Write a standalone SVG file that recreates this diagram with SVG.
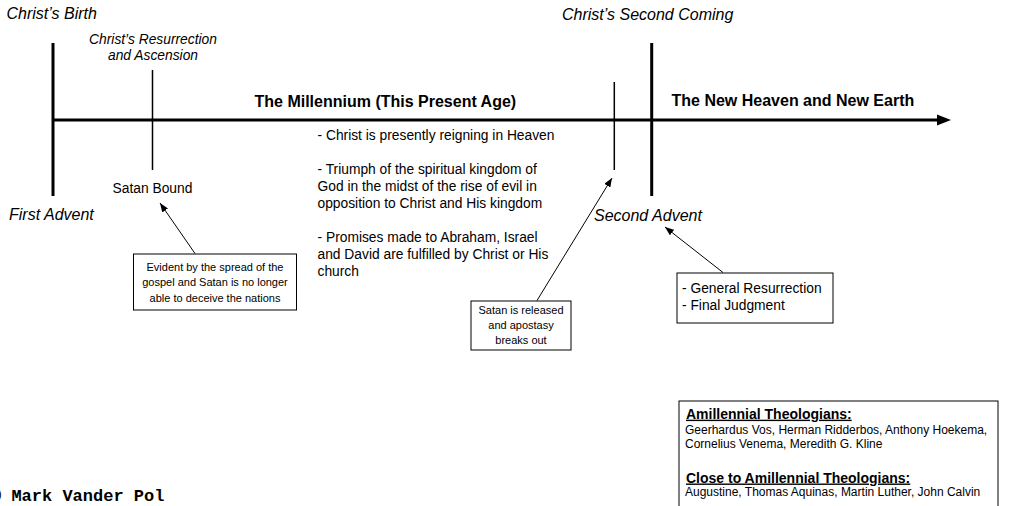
<svg xmlns="http://www.w3.org/2000/svg" width="1016" height="506" viewBox="0 0 1016 506">
<style>
text{font-family:"Liberation Sans",Arial,sans-serif;fill:#000}
.it{font-style:italic;font-size:16px}
.its{font-style:italic;font-size:13.8px}
.bt{font-weight:bold;font-size:16px}
.bd{font-size:13.8px}
.sm{font-size:11px}
.th{font-weight:bold;font-size:14px;text-decoration:underline}
.tn{font-size:12px}
.mono{font-family:"Liberation Mono","Courier New",monospace;font-weight:bold;font-size:17px}
.box{fill:#fff;stroke:#000;stroke-width:1}
.thick{stroke:#000;stroke-width:3}
.thin{stroke:#000;stroke-width:1.5}
.arr{stroke:#000;stroke-width:1;fill:none;marker-end:url(#ah)}
</style>
<defs>
<marker id="ah" viewBox="0 0 10 10" refX="10" refY="5" markerWidth="9" markerHeight="7" markerUnits="userSpaceOnUse" orient="auto" preserveAspectRatio="none">
<path d="M0,0 L10,5 L0,10 z" fill="#000"/>
</marker>
</defs>
<rect width="1016" height="506" fill="#fff"/>

<g id="timeline">
<line class="thick" x1="52" y1="120" x2="940" y2="120"/>
<polygon points="937,114.5 951,120 937,125.5" fill="#000"/>
<line class="thick" x1="53" y1="43" x2="53" y2="196"/>
<line class="thin" x1="152.5" y1="70" x2="152.5" y2="170"/>
<line class="thin" x1="614.3" y1="82" x2="614.3" y2="170"/>
<line class="thick" x1="651.7" y1="43" x2="651.7" y2="196"/>
</g>

<g id="first-advent">
<text class="it" x="6.5" y="19">Christ’s Birth</text>
<text class="it" x="9" y="220">First Advent</text>
</g>

<g id="resurrection">
<text class="its" x="153" y="44" text-anchor="middle">Christ’s Resurrection</text>
<text class="its" x="153" y="59.5" text-anchor="middle">and Ascension</text>
<text class="bd" x="152.5" y="193" text-anchor="middle">Satan Bound</text>
</g>

<g id="millennium">
<text class="bt" x="254.5" y="106.5">The Millennium (This Present Age)</text>
<text class="bd" x="317.5" y="140">- Christ is presently reigning in Heaven</text>
<text class="bd" x="317.5" y="174">- Triumph of the spiritual kingdom of</text>
<text class="bd" x="317.5" y="191">God in the midst of the rise of evil in</text>
<text class="bd" x="317.5" y="208">opposition to Christ and His kingdom</text>
<text class="bd" x="317.5" y="242">- Promises made to Abraham, Israel</text>
<text class="bd" x="317.5" y="259">and David are fulfilled by Christ or His</text>
<text class="bd" x="317.5" y="276">church</text>
</g>

<g id="second-advent">
<text class="it" x="562" y="20">Christ’s Second Coming</text>
<text class="it" x="594" y="220.5">Second Advent</text>
</g>

<g id="new-heaven">
<text class="bt" x="671.5" y="106">The New Heaven and New Earth</text>
</g>

<g id="box-satan-bound">
<rect class="box" x="133.5" y="254" width="163" height="56"/>
<text class="sm" x="215" y="271" text-anchor="middle">Evident by the spread of the</text>
<text class="sm" x="215" y="286.3" text-anchor="middle">gospel and Satan is no longer</text>
<text class="sm" x="215" y="301.6" text-anchor="middle">able to deceive the nations</text>
</g>

<g id="box-satan-released">
<rect class="box" x="471" y="301" width="100" height="49"/>
<text class="sm" x="521" y="314" text-anchor="middle">Satan is released</text>
<text class="sm" x="521" y="329" text-anchor="middle">and apostasy</text>
<text class="sm" x="521" y="344" text-anchor="middle">breaks out</text>
</g>

<g id="box-judgment">
<rect class="box" x="677" y="273" width="156" height="50"/>
<text class="bd" x="682" y="292.5">- General Resurrection</text>
<text class="bd" x="682" y="310">- Final Judgment</text>
</g>

<g id="box-theologians">
<rect class="box" x="679" y="401" width="319" height="115"/>
<text class="th" x="686" y="418.7">Amillennial Theologians:</text>
<text class="tn" x="685" y="434">Geerhardus Vos, Herman Ridderbos, Anthony Hoekema,</text>
<text class="tn" x="685" y="447.5">Cornelius Venema, Meredith G. Kline</text>
<text class="th" x="686" y="482.5">Close to Amillennial Theologians:</text>
<text class="tn" x="685" y="496">Augustine, Thomas Aquinas, Martin Luther, John Calvin</text>
</g>

<g id="copyright">
<text class="mono" x="-9" y="501">© Mark Vander Pol</text>
</g>

<g id="connectors">
<line class="arr" x1="195" y1="253.5" x2="160" y2="203"/>
<line class="arr" x1="537" y1="300.5" x2="612" y2="178"/>
<line class="arr" x1="723" y1="272.5" x2="665" y2="227"/>
</g>
</svg>
